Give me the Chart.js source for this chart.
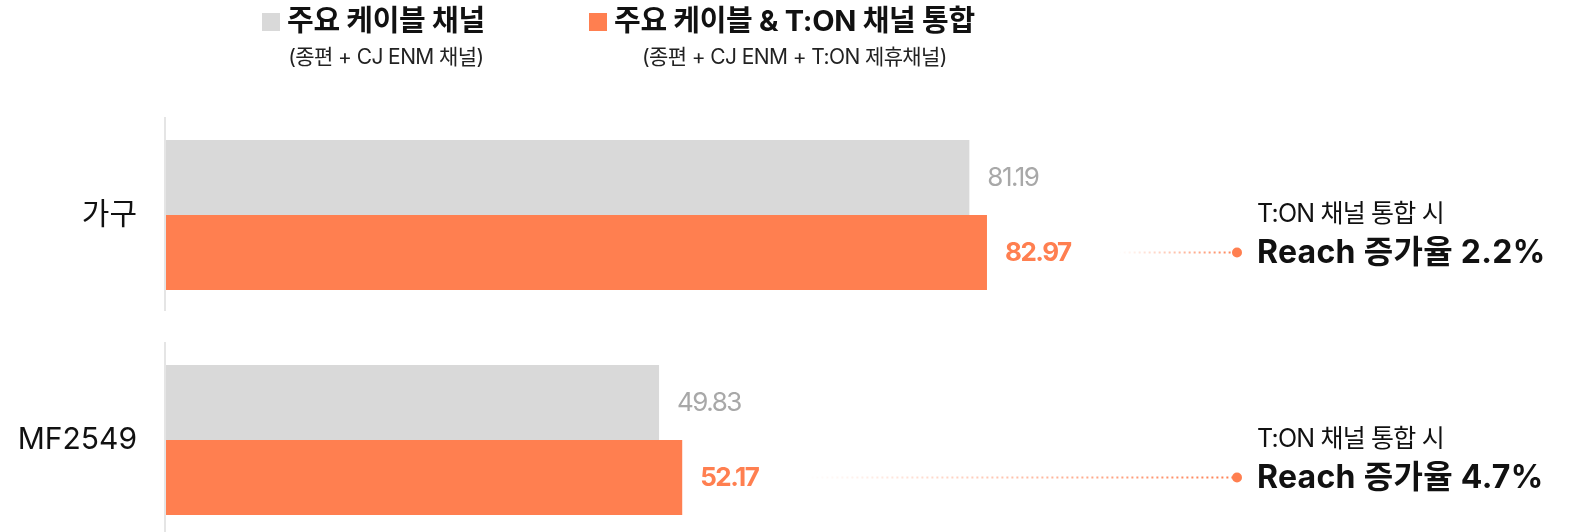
<!DOCTYPE html>
<html lang="ko">
<head>
<meta charset="utf-8">
<title>T:ON 채널 통합 Reach</title>
<script src="https://cdn.jsdelivr.net/npm/chart.js@4.4.1/dist/chart.umd.min.js"></script>
<style>
  html, body { margin: 0; padding: 0; background: #fff; overflow: hidden; }
  .wrap {
    position: relative;
    width: 1578px;
    height: 532px;
    font-family: Inter, "Noto Sans CJK KR", sans-serif;
  }
  .wrap canvas { position: absolute; left: 0; top: 0; }
  .legend-item { position: absolute; top: 13px; display: flex; align-items: flex-start; }
  .legend-box { width: 18px; height: 18px; margin-right: 7px; flex: none; }
  .legend-text { display: flex; flex-direction: column; align-items: center; }
  .legend-title {
    font-size: 29px; line-height: 29px; font-weight: 700; color: #111;
    letter-spacing: -0.3px; margin-top: -7px; white-space: nowrap;
  }
  .legend-note {
    font-size: 21px; line-height: 21px; color: #222;
    letter-spacing: -0.6px; margin-top: 11px; white-space: nowrap;
  }
</style>
</head>
<body>
<div class="wrap">
  <canvas id="reachChart"></canvas>
  <div id="legend"></div>
</div>
<script>
const categories = ["가구", "MF2549"];
const baseValues = [81.19, 49.83];
const tonValues = [82.97, 52.17];
const seriesNames = ["주요 케이블 채널", "주요 케이블 & T:ON 채널 통합"];
const seriesNotes = ["(종편 + CJ ENM 채널)", "(종편 + CJ ENM + T:ON 제휴채널)"];
const seriesColors = ["#d9d9d9", "#ff7f50"];
const calloutLabel = "T:ON 채널 통합 시";

const FONT = 'Inter, "Noto Sans CJK KR", sans-serif';

// legend (title + note under it)
const legendEl = document.getElementById("legend");
const legendLeft = [262, 589];
seriesNames.forEach((name, i) => {
  const item = document.createElement("div");
  item.className = "legend-item";
  item.style.left = legendLeft[i] + "px";
  item.innerHTML =
    '<span class="legend-box" style="background:' + seriesColors[i] + '"></span>' +
    '<div class="legend-text"><div class="legend-title">' + name + "</div>" +
    '<div class="legend-note">' + seriesNotes[i] + "</div></div>";
  legendEl.appendChild(item);
});

// two short axis segments, one per category
const axisSegments = {
  id: "axisSegments",
  beforeDatasetsDraw(chart) {
    const ctx = chart.ctx;
    const y = chart.scales.y;
    const x = chart.chartArea.left - 1;
    ctx.save();
    ctx.strokeStyle = "#dcdcdc";
    ctx.lineWidth = 1.5;
    categories.forEach((c, i) => {
      const cy = y.getPixelForValue(i);
      ctx.beginPath();
      ctx.moveTo(x, cy - 98);
      ctx.lineTo(x, cy + 96);
      ctx.stroke();
    });
    ctx.restore();
  },
};

function valueFont(dsIndex) {
  return dsIndex === 0 ? "400 26px " + FONT : "700 26px " + FONT;
}

const valueLabels = {
  id: "valueLabels",
  afterDatasetsDraw(chart) {
    const ctx = chart.ctx;
    ctx.save();
    ctx.textBaseline = "middle";
    ctx.textAlign = "left";
    ctx.letterSpacing = "-1.5px";
    chart.data.datasets.forEach((ds, d) => {
      const meta = chart.getDatasetMeta(d);
      ctx.font = valueFont(d);
      ctx.fillStyle = d === 0 ? "#a8a8a8" : seriesColors[1];
      meta.data.forEach((bar, i) => {
        ctx.fillText(ds.data[i].toFixed(2), bar.x + 18, bar.y + 1);
      });
    });
    ctx.restore();
  },
};

const callouts = {
  id: "callouts",
  afterDatasetsDraw(chart) {
    const ctx = chart.ctx;
    const bars = chart.getDatasetMeta(1).data;
    const textX = chart.chartArea.right - 321;
    const dotX = textX - 20;
    ctx.save();
    bars.forEach((bar, i) => {
      const rate = (((tonValues[i] - baseValues[i]) / baseValues[i]) * 100).toFixed(1);
      ctx.letterSpacing = "-1.5px";
      ctx.font = valueFont(1);
      const labelEnd = bar.x + 18 + ctx.measureText(tonValues[i].toFixed(2)).width;
      const startX = labelEnd + 48;
      const y = bar.y;

      const grad = ctx.createLinearGradient(startX, 0, dotX, 0);
      grad.addColorStop(0, "rgba(255,127,80,0)");
      grad.addColorStop(1, "rgba(255,127,80,1)");
      ctx.strokeStyle = grad;
      ctx.lineWidth = 2;
      ctx.setLineDash([2, 3]);
      ctx.beginPath();
      ctx.moveTo(startX, y);
      ctx.lineTo(dotX - 4, y);
      ctx.stroke();
      ctx.setLineDash([]);

      ctx.fillStyle = seriesColors[1];
      ctx.beginPath();
      ctx.arc(dotX, y, 5, 0, Math.PI * 2);
      ctx.fill();

      ctx.fillStyle = "#111";
      ctx.textAlign = "left";
      ctx.textBaseline = "middle";
      ctx.letterSpacing = "-0.8px";
      ctx.font = "400 25px " + FONT;
      ctx.fillText(calloutLabel, textX, y - 38);
      ctx.letterSpacing = "0.3px";
      ctx.font = "700 32px " + FONT;
      ctx.fillText("Reach 증가율 " + rate + "%", textX, y + 1);
    });
    ctx.restore();
  },
};

new Chart(document.getElementById("reachChart"), {
  type: "bar",
  data: {
    labels: categories,
    datasets: [
      {
        label: seriesNames[0],
        data: baseValues,
        backgroundColor: seriesColors[0],
        categoryPercentage: 2 / 3,
        barPercentage: 1,
        clip: false,
      },
      {
        label: seriesNames[1],
        data: tonValues,
        backgroundColor: seriesColors[1],
        categoryPercentage: 2 / 3,
        barPercentage: 1,
        clip: false,
      },
    ],
  },
  options: {
    indexAxis: "y",
    responsive: true,
    maintainAspectRatio: false,
    animation: false,
    layout: { padding: { top: 215, bottom: 92, left: 0, right: 0 } },
    scales: {
      x: { display: false, min: 0, max: 142.7 },
      y: {
        offset: false,
        grid: { display: false, drawTicks: false },
        border: { display: false },
        ticks: {
          padding: 29,
          color: "#111",
          font: { family: FONT, size: 30, weight: "400" },
        },
        afterFit(scale) {
          scale.width = 166;
        },
      },
    },
    plugins: {
      legend: { display: false },
      tooltip: { enabled: false },
    },
  },
  plugins: [axisSegments, valueLabels, callouts],
});
</script>
</body>
</html>
